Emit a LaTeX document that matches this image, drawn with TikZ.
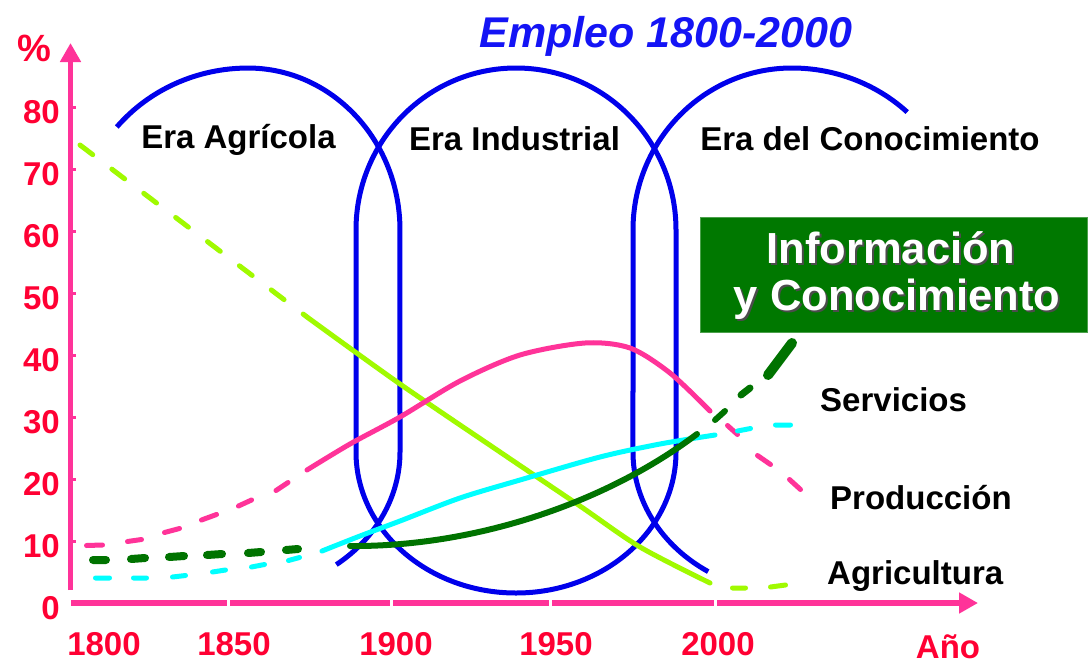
\documentclass[tikz,border=0pt]{standalone}
\usepackage{fontspec}
\setmainfont{Liberation Sans}
\usetikzlibrary{arrows.meta}
\definecolor{axispink}{RGB}{255,51,153}
\definecolor{labelred}{RGB}{255,0,51}
\definecolor{erablue}{RGB}{0,0,235}
\definecolor{titleblue}{RGB}{20,20,245}
\definecolor{limeg}{RGB}{160,250,0}
\definecolor{prodpink}{RGB}{255,51,153}
\definecolor{servcyan}{RGB}{0,255,255}
\definecolor{infogreen}{RGB}{0,120,0}
\definecolor{darkgreen}{RGB}{0,115,0}
\begin{document}
\begin{tikzpicture}[x=1pt,y=-1pt,
  axisline/.style={axispink,line width=5.5pt},
  axistip/.style={-{Triangle[length=19pt,width=20pt]}},
  tickmark/.style={axispink,line width=3pt},
  ticklabel/.style={text=labelred,font=\fontsize{33pt}{36pt}\selectfont\bfseries,inner sep=0pt},
  eraline/.style={erablue,line width=5pt,line join=round},
  eralabel/.style={font=\fontsize{33pt}{36pt}\selectfont\bfseries,inner sep=0pt,anchor=base},
  serieslabel/.style={font=\fontsize{33pt}{36pt}\selectfont\bfseries,inner sep=0pt,anchor=base west},
  curve/.style={line width=5pt,line cap=round,line join=round},
  infotext/.style={font=\fontsize{43.5pt}{46pt}\selectfont\bfseries,inner sep=0pt,anchor=base},
]
\useasboundingbox (0,0) rectangle (1089,664);
\fill[white] (0,0) rectangle (1089,664);

% axes
\draw[axisline,axistip] (70.5,590) -- (70.5,43);
\draw[axisline,axistip] (71,603) -- (978,603);
\foreach \gx in {228,391,550,715} \draw[white,line width=3pt] (\gx,598) -- (\gx,608);
\foreach \v in {10,20,...,80} \draw[tickmark] (72,{603-6.2*\v}) -- (76,{603-6.2*\v});
\foreach \v in {0,10,...,80} \node[ticklabel,anchor=base east] (ylab\v) at (60,{619-6.2*\v}) {\v};
\foreach \yr/\xx in {1800/104,1850/234,1900/396,1950/556,2000/718}
  \node[ticklabel,anchor=base] (xlab\yr) at (\xx,655) {\yr};
\node[ticklabel,anchor=base] (xname) at (948,658.5) {Año};
\node[ticklabel,anchor=base,font=\fontsize{38pt}{40pt}\selectfont\bfseries] (yname) at (34,61) {\%};

% title
\node[font=\fontsize{43pt}{46pt}\selectfont\bfseries\itshape,text=titleblue,inner sep=0pt,anchor=base] (title) at (666,47) {Empleo 1800-2000};

% era shapes
\draw[eraline] (116.8,127) arc[start angle=-140.5,end angle=-90,x radius=170,y radius=162]
  arc[start angle=-90,end angle=0,x radius=152,y radius=162] -- (400,452)
  arc[start angle=0,end angle=53,x radius=160,y radius=141];
\draw[eraline] (356,452) -- (356,230) arc[start angle=180,end angle=360,x radius=160,y radius=162]
  -- (676,452) arc[start angle=0,end angle=180,x radius=160,y radius=141] -- cycle;
\draw[eraline] (708.2,571.6) arc[start angle=122,end angle=180,x radius=160,y radius=141]
  -- (633,230) arc[start angle=180,end angle=270,x radius=159,y radius=162]
  arc[start angle=270,end angle=313.3,x radius=168,y radius=162];

% Agricultura (lime)
\draw[curve,limeg,dash pattern=on 16pt off 24pt] (80,145) -- (307,317);
\draw[curve,limeg] plot[smooth] coordinates {(307,317) (400,384) (500,452) (580,506) (640,547) (710,583)};
\draw[curve,limeg] (732.5,588) -- (745.5,588) (770.5,587) -- (785.5,585);

% Produccion (pink)
\draw[curve,prodpink] (86.5,545.5) -- (102.5,545) (127.5,541.5) -- (141.5,539.5)
  (164.5,532.5) -- (179.5,528.5) (201.5,520) -- (216.5,514.5)
  (238.5,506) -- (251.5,500) (276,490.5) -- (288,482.5);
\draw[curve,prodpink] plot[smooth] coordinates {(307,470) (350,444) (400,417) (460,381) (520,355) (585,343) (630,348) (670,373) (710,411)};
\draw[curve,prodpink] (727.5,425.5) -- (737.5,434.5) (757.5,455.5) -- (770.5,464.5) (789.5,479.5) -- (800.5,489.5);

% Servicios (cyan)
\draw[curve,servcyan] (95.5,578) -- (109.5,578) (133.5,578) -- (146.5,578)
  (172.5,577) -- (185.5,575.5) (212.5,572) -- (225.5,570)
  (251.5,567) -- (264.5,564.5) (288.5,560.5) -- (299.5,557.5);
\draw[curve,servcyan] plot[smooth] coordinates {(322,551) (360,536) (400,521) (460,498) (520,480) (600,457) (660,444) (715,435)};
\draw[curve,servcyan] (737.5,431) -- (750.5,428.5) (775.5,425) -- (790.5,425);

% Informacion y Conocimiento (dark green)
\draw[curve,darkgreen,line width=8pt] (93,560) -- (106,560) (131,559) -- (145,558)
  (169,557) -- (184,556) (207,555) -- (222,554) (248,553) -- (261,552) (286,550) -- (298,549);
\draw[curve,darkgreen,line width=6pt] (350,546) .. controls (480,547) and (610,500) .. (697,434);
\draw[curve,darkgreen,line width=6pt] (715,420) -- (725,411);
\draw[curve,darkgreen,line width=7pt] (741,395) -- (750,388);
\draw[curve,darkgreen,line width=10pt] (768,375) -- (792,343);

% era labels
\node[eralabel] (eraagr) at (238.5,148) {Era Agrícola};
\node[eralabel] (eraind) at (514.5,150) {Era Industrial};
\node[eralabel] (eracon) at (870,150) {Era del Conocimiento};

% series labels
\node[serieslabel] (lserv) at (820,411) {Servicios};
\node[serieslabel] (lprod) at (830,509) {Producción};
\node[serieslabel] (lagri) at (827,584) {Agricultura};

% info box
\node[fill=infogreen,draw=infogreen!70!white,line width=1pt,minimum width=387pt,minimum height=115pt,inner sep=0pt] (infobox) at (893.5,274.5) {};
\node[infotext,text=black!70] (infoAshadow) at (893,265) {Información};
\node[infotext,text=white] (infoA) at (891,263) {Información};
\node[infotext,text=black!70] (infoBshadow) at (899,312) {y Conocimiento};
\node[infotext,text=white] (infoB) at (897,310) {y Conocimiento};
\end{tikzpicture}
\end{document}
